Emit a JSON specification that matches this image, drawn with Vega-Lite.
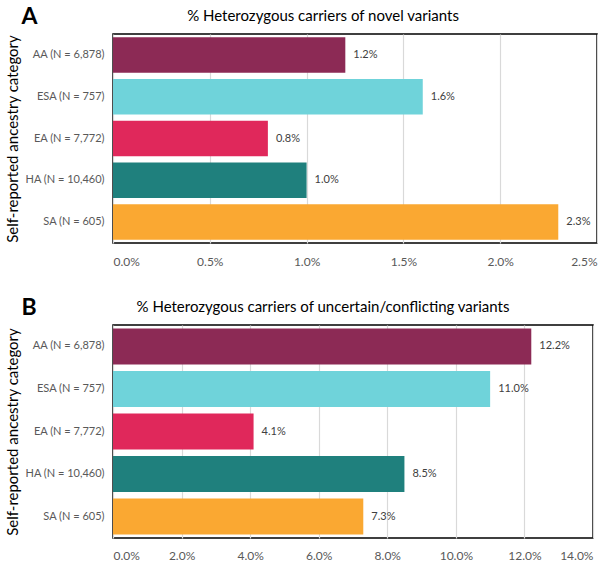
{
  "$schema": "https://vega.github.io/schema/vega-lite/v6.json",
  "padding": {"left": 4, "top": 4, "right": 0, "bottom": 0},
  "config": {
    "font": "Lato",
    "view": {"stroke": "#000000", "strokeWidth": 1.5},
    "concat": {"spacing": 27},
    "axis": {"labelColor": "#595959", "labelFontSize": 12, "titleColor": "#000000"}
  },
  "datasets": {
    "novel": [
      {"group": "AA (N = 6,878)", "pct": 0.012},
      {"group": "ESA (N = 757)", "pct": 0.016},
      {"group": "EA (N = 7,772)", "pct": 0.008},
      {"group": "HA (N = 10,460)", "pct": 0.010},
      {"group": "SA (N = 605)", "pct": 0.023}
    ],
    "uncertain": [
      {"group": "AA (N = 6,878)", "pct": 0.122},
      {"group": "ESA (N = 757)", "pct": 0.110},
      {"group": "EA (N = 7,772)", "pct": 0.041},
      {"group": "HA (N = 10,460)", "pct": 0.085},
      {"group": "SA (N = 605)", "pct": 0.073}
    ]
  },
  "vconcat": [
    {
      "width": 484,
      "height": 209,
      "title": {"text": "% Heterozygous carriers of novel variants", "fontSize": 15, "fontWeight": "normal", "anchor": "middle", "dx": -32, "offset": -19, "color": "#000000"},
      "data": {"name": "novel"},
      "encoding": {
        "y": {
          "field": "group", "type": "nominal", "sort": null,
          "scale": {"paddingInner": 0.15, "paddingOuter": 0.08},
          "axis": {"title": "Self-reported ancestry category", "titleFontSize": 15, "titleFontWeight": "normal", "titlePadding": 4, "ticks": false, "domain": false, "labelPadding": 9, "labelFontSize": 11}
        }
      },
      "layer": [
        {
          "mark": {"type": "bar"},
          "encoding": {
            "x": {
              "field": "pct", "type": "quantitative",
              "scale": {"domain": [0, 0.025], "nice": false},
              "axis": {"orient": "bottom", "title": null, "format": ".1%", "values": [0, 0.005, 0.01, 0.015, 0.02, 0.025], "grid": true, "gridColor": "#d9d9d9", "gridWidth": 1.2, "domain": false, "ticks": false, "labelPadding": 13}
            },
            "color": {
              "field": "group", "type": "nominal", "legend": null,
              "scale": {"domain": ["AA (N = 6,878)", "ESA (N = 757)", "EA (N = 7,772)", "HA (N = 10,460)", "SA (N = 605)"], "range": ["#8c2a55", "#6fd3da", "#e0285b", "#1f807d", "#faa832"]}
            }
          }
        },
        {
          "mark": {"type": "text", "align": "left", "dx": 8, "fontSize": 11, "color": "#404040"},
          "encoding": {
            "x": {
              "field": "pct", "type": "quantitative",
              "axis": {"orient": "top", "title": "A", "titleFontSize": 23, "titleFontWeight": "bold", "titleX": -92, "titleY": -18, "titleAlign": "left", "titleBaseline": "middle", "titleAngle": 0, "labels": false, "ticks": false, "domain": false, "grid": false}
            },
            "text": {"field": "pct", "type": "quantitative", "format": ".1%"}
          }
        }
      ],
      "resolve": {"axis": {"x": "independent"}}
    },
    {
      "width": 480,
      "height": 213,
      "title": {"text": "% Heterozygous carriers of uncertain/conflicting variants", "fontSize": 15, "fontWeight": "normal", "anchor": "middle", "dx": -30, "offset": -19, "color": "#000000"},
      "data": {"name": "uncertain"},
      "encoding": {
        "y": {
          "field": "group", "type": "nominal", "sort": null,
          "scale": {"paddingInner": 0.15, "paddingOuter": 0.08},
          "axis": {"title": "Self-reported ancestry category", "titleFontSize": 15, "titleFontWeight": "normal", "titlePadding": 4, "ticks": false, "domain": false, "labelPadding": 9, "labelFontSize": 11}
        }
      },
      "layer": [
        {
          "mark": {"type": "bar"},
          "encoding": {
            "x": {
              "field": "pct", "type": "quantitative",
              "scale": {"domain": [0, 0.14], "nice": false},
              "axis": {"orient": "bottom", "title": null, "format": ".1%", "values": [0, 0.02, 0.04, 0.06, 0.08, 0.1, 0.12, 0.14], "grid": true, "gridColor": "#d9d9d9", "gridWidth": 1.2, "domain": false, "ticks": false, "labelPadding": 12}
            },
            "color": {
              "field": "group", "type": "nominal", "legend": null,
              "scale": {"domain": ["AA (N = 6,878)", "ESA (N = 757)", "EA (N = 7,772)", "HA (N = 10,460)", "SA (N = 605)"], "range": ["#8c2a55", "#6fd3da", "#e0285b", "#1f807d", "#faa832"]}
            }
          }
        },
        {
          "mark": {"type": "text", "align": "left", "dx": 8, "fontSize": 11, "color": "#404040"},
          "encoding": {
            "x": {
              "field": "pct", "type": "quantitative",
              "axis": {"orient": "top", "title": "B", "titleFontSize": 23, "titleFontWeight": "bold", "titleX": -92, "titleY": -18, "titleAlign": "left", "titleBaseline": "middle", "titleAngle": 0, "labels": false, "ticks": false, "domain": false, "grid": false}
            },
            "text": {"field": "pct", "type": "quantitative", "format": ".1%"}
          }
        }
      ],
      "resolve": {"axis": {"x": "independent"}}
    }
  ]
}
